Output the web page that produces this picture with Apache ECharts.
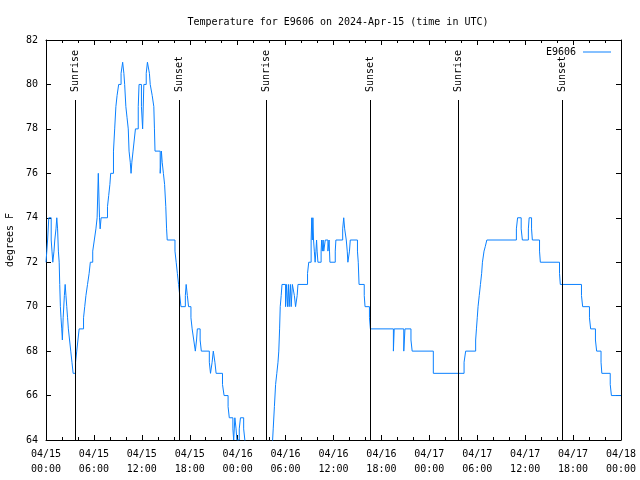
<!DOCTYPE html>
<html><head><meta charset="utf-8">
<script src="https://cdn.jsdelivr.net/npm/echarts@6/dist/echarts.min.js"></script>
<style>html,body{margin:0;padding:0;background:#fff}#c{width:640px;height:480px}</style>
</head><body><div id="c"></div>
<script>
// hours since 2024-04-15 00:00 UTC
const hours = [0,0.1,0.2,0.35,0.55,0.65,0.75,0.85,1.0,1.1,1.25,1.35,1.45,1.55,1.65,1.72,1.8,1.88,1.97,2.05,2.15,2.3,2.4,2.5,2.6,2.7,2.8,2.95,3.1,3.25,3.4,3.7,3.85,4.0,4.15,4.7,4.85,5.0,5.2,5.4,5.55,5.85,6.05,6.25,6.4,6.55,6.7,6.78,6.9,7.7,7.85,8.0,8.1,8.45,8.6,8.75,8.9,9.1,9.4,9.6,9.75,9.85,10.0,10.15,10.3,10.4,10.55,10.65,10.75,10.9,11.05,11.2,11.55,11.65,11.95,12.1,12.25,12.55,12.7,12.95,13.05,13.3,13.5,13.58,13.65,14.3,14.45,14.55,14.7,14.85,15.0,15.1,15.18,16.15,16.3,16.45,16.6,16.75,16.9,17.45,17.55,17.7,17.85,18.15,18.3,18.5,18.7,18.85,18.95,19.3,19.45,20.45,20.6,20.8,20.95,21.15,21.3,22.1,22.3,22.8,22.95,23.4,23.5,23.65,23.8,23.9,24.2,24.35,24.75,24.9,25.05,25.5,26.2,27.0,27.7,28.1,28.3,28.45,28.6,28.75,28.9,29.05,29.15,29.25,29.33,29.45,29.55,30.0,30.1,30.25,30.35,30.45,30.6,30.7,30.85,31.1,31.25,31.45,31.55,32.75,32.9,33.2,33.28,33.35,33.42,33.5,33.6,33.7,33.8,33.88,33.95,34.05,34.45,34.52,34.6,34.7,34.78,34.97,35.3,35.45,35.5,35.55,36.22,36.3,37.15,37.28,37.4,37.6,37.72,37.8,38.0,38.1,39.0,39.1,39.2,39.85,39.95,40.5,40.62,43.5,43.6,44.8,44.95,45.7,45.85,48.5,52.35,52.55,53.8,53.9,54.0,54.1,54.25,54.4,54.55,54.65,54.85,55.0,55.2,58.9,59.05,59.5,59.65,60.4,60.5,60.8,60.9,61.8,61.9,64.3,64.4,67.05,67.2,68.05,68.2,68.8,68.95,69.5,69.6,70.65,70.8,72];
const temps = [72,72.5,73,74,74,73,72.5,72,72.5,73,73.5,74,73.5,72.5,72,71,70,69.5,69,68.5,69.5,70.5,71,70.5,70,69.5,69,68.5,68,67.5,67,67.5,68,68.5,69,69.5,70,70.5,71,71.5,72,72.5,73,73.5,74,76,74,73.5,74,74.5,75,75.5,76,77,78,79,79.5,80,80.5,81,80.5,80,79,78.5,78,77,76.5,76,76.5,77,77.5,78,79,80,79,78,80,80.5,81,80.5,80,79.5,79,78,77,76,77,76.5,76,75.5,74.5,73.5,73,72.5,72,71.5,71,70.5,70,70.5,71,70.5,70,69.5,69,68.5,68,68.5,69,68.5,68,67.5,67,67.5,68,67.5,67,66.5,66,65.5,65,64.5,64,65,64.5,64,64.5,65,64.5,64,63.5,63,62.5,62,62.5,63,63.5,64.5,65.5,66.5,67,67.5,68,69,70,70.5,71,70,71,70,71,70,71,70,71,70.5,70,70.5,71,71.5,72,73,74,73,74,73,72.5,72,72.5,73,72.5,72,72.5,73,72.5,73,72.5,73,72.5,73,72.5,72,72.5,73,73.5,74,73.5,73,72.5,72,72.5,73,72.5,72,71,70.5,70,69.5,69,68,69,68,69,68.5,68,67,67.5,68,68.5,69,69.5,70,70.5,71,71.5,72,72.5,72.7,73,73.5,74,73.5,73,73.5,74,73.5,73,72.5,72,71.5,71,70.5,70,69.5,69,68.5,68,67.5,67,66.5,66,66];
const sunrise = [3.63, 27.58, 51.63];
const sunset = [16.68, 40.65, 64.65];
const yTicks = [64,66,68,70,72,74,76,78,80,82];
const seriesName = 'E9606';
const titleText = 'Temperature for E9606 on 2024-Apr-15 (time in UTC)';

const FONT = 'DejaVu Sans Mono';
const data = hours.map((h, i) => [h, temps[i]]);

function pad(n){ return (n < 10 ? '0' : '') + n; }
function xLabel(v){
  const day = 15 + Math.floor(v / 24);
  const hr = Math.round(v % 24);
  return '04/' + pad(day) + '\n' + pad(hr) + ':00';
}

const marks = [];
function addEvent(t, name){
  marks.push([{coord:[t,64], name:''},{coord:[t,79.3]}]);
  marks.push([
    {coord:[t,79.66], name:name, lineStyle:{color:'rgba(0,0,0,0)'}},
    {coord:[t,81.8], lineStyle:{color:'rgba(0,0,0,0)'}}
  ]);
}
sunrise.forEach(t => addEvent(t, 'Sunrise'));
sunset.forEach(t => addEvent(t, 'Sunset'));

const chart = echarts.init(document.getElementById('c'), null, {renderer:'canvas'});
const axisCommon = {
  axisLine:{show:true, onZero:false, lineStyle:{color:'#000', width:1}},
  axisTick:{show:true, inside:true, length:5, lineStyle:{color:'#000'}},
  splitLine:{show:false}
};
chart.setOption({
  animation:false,
  backgroundColor:'#fff',
  title:{text:titleText, left:333, top:12, textAlign:'center',
    textStyle:{fontFamily:FONT, fontSize:10, fontWeight:'normal', color:'#000'}},
  legend:{show:true, right:24, top:42, align:'right', icon:'rect', itemWidth:28, itemHeight:1,
    textStyle:{fontFamily:FONT, fontSize:10, color:'#000', padding:[0,2,0,0]}, data:[seriesName]},
  grid:{left:46, right:19, top:40, bottom:40, show:false, containLabel:false, outerBoundsMode:'none'},
  xAxis:[
    Object.assign({type:'value', min:0, max:72, interval:6, position:'bottom',
      minorTick:{show:true, splitNumber:3, length:3, lineStyle:{color:'#000'}},
      axisLabel:{formatter:xLabel, fontFamily:FONT, fontSize:10, color:'#000', margin:7, lineHeight:15}}, axisCommon),
    Object.assign({type:'value', min:0, max:72, interval:6, position:'top',
      minorTick:{show:true, splitNumber:3, length:3, lineStyle:{color:'#000'}},
      axisLabel:{show:false}}, axisCommon)
  ],
  yAxis:[
    Object.assign({type:'value', min:yTicks[0], max:yTicks[yTicks.length-1], interval:2, position:'left',
      name:'degrees F', nameLocation:'middle', nameGap:30, nameRotate:90,
      nameTextStyle:{fontFamily:FONT, fontSize:10, color:'#000'},
      axisLabel:{fontFamily:FONT, fontSize:10, color:'#000', margin:8}}, axisCommon),
    Object.assign({type:'value', min:yTicks[0], max:yTicks[yTicks.length-1], interval:2, position:'right',
      axisLabel:{show:false}}, axisCommon)
  ],
  series:[{
    name:seriesName, type:'line', step:'end', data:data, symbol:'none', showSymbol:false,
    xAxisIndex:0, yAxisIndex:0, clip:true,
    lineStyle:{color:'#0a80ff', width:1}, itemStyle:{color:'#0a80ff'},
    markLine:{silent:true, symbol:['none','none'], animation:false,
      lineStyle:{color:'#000', width:1, type:'solid'},
      label:{show:true, position:'insideStart', distance:0, verticalAlign:'middle', formatter:'{b}', color:'#000', fontFamily:FONT, fontSize:10},
      emphasis:{disabled:true},
      data:marks}
  }]
});
</script></body></html>
